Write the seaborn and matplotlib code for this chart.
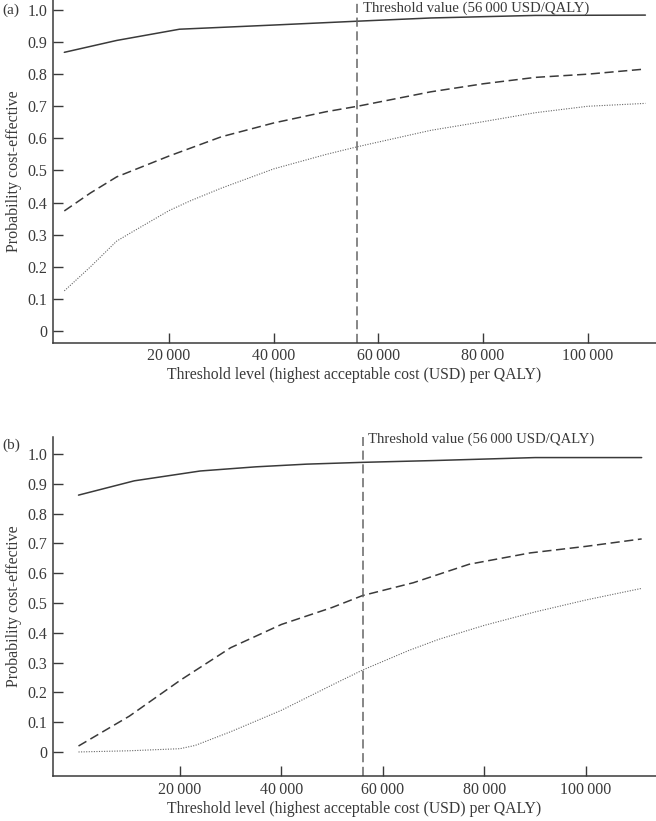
import numpy as np
import pandas as pd
import matplotlib
matplotlib.use("Agg")
import matplotlib.pyplot as plt
import seaborn as sns

# panel (a)
a_solid_x = [0, 10000, 22000, 40000, 56000, 70000, 90000, 111000]
a_solid_y = [0.868, 0.905, 0.94, 0.953, 0.965, 0.975, 0.983, 0.984]
a_dash_x = [0, 5000, 10000, 20000, 30000, 40000, 50000, 56000, 70000, 80000, 90000, 100000, 111000]
a_dash_y = [0.374, 0.43, 0.48, 0.545, 0.605, 0.648, 0.683, 0.70, 0.745, 0.77, 0.79, 0.80, 0.816]
a_dot_x = [0, 5000, 10000, 12600, 20000, 24000, 30000, 40000, 50000, 56000, 70000, 80000, 90000, 100000, 111000]
a_dot_y = [0.125, 0.2, 0.28, 0.305, 0.375, 0.405, 0.445, 0.505, 0.55, 0.574, 0.625, 0.652, 0.68, 0.70, 0.709]

# panel (b)
b_solid_x = [0, 11000, 24000, 35000, 45000, 56000, 70000, 90000, 111000]
b_solid_y = [0.862, 0.91, 0.943, 0.957, 0.966, 0.972, 0.978, 0.988, 0.988]
b_dash_x = [0, 10000, 20000, 30000, 40000, 50000, 56000, 66000, 77000, 89000, 100000, 111000]
b_dash_y = [0.02, 0.12, 0.24, 0.35, 0.428, 0.485, 0.525, 0.568, 0.63, 0.668, 0.69, 0.715]
b_dot_x = [0, 10000, 20000, 23000, 30000, 40000, 50000, 56000, 65000, 71000, 80000, 90000, 100000, 111000]
b_dot_y = [0.0, 0.004, 0.011, 0.022, 0.068, 0.14, 0.225, 0.275, 0.34, 0.378, 0.425, 0.47, 0.51, 0.549]

threshold = 56000
threshold_label = "Threshold value (56\u2009000 USD/QALY)"
x_ticks = [20000, 40000, 60000, 80000, 100000]
x_ticklabels = ["20\u2009000", "40\u2009000", "60\u2009000", "80\u2009000", "100\u2009000"]
y_ticks = [0, 0.1, 0.2, 0.3, 0.4, 0.5, 0.6, 0.7, 0.8, 0.9, 1.0]
y_ticklabels = ["0", "0.1", "0.2", "0.3", "0.4", "0.5", "0.6", "0.7", "0.8", "0.9", "1.0"]

sns.set_style("ticks")
plt.rcParams['font.family'] = ['Liberation Serif', 'DejaVu Serif']

fig = plt.figure(figsize=(6.56, 8.21), dpi=100)
ax_a = fig.add_axes([0.0808, 0.5826, 0.919, 0.4174])
ax_b = fig.add_axes([0.0808, 0.0545, 0.919, 0.4132])

ink = "#3a3a3a"

def draw_panel(ax, series, xlim, ylim, text_y, tag, tag_y):
    (sx, sy), (dx, dy), (px, py) = series
    sns.lineplot(x=sx, y=sy, ax=ax, color=ink, linewidth=1.1, linestyle="-")
    sns.lineplot(x=dx, y=dy, ax=ax, color=ink, linewidth=1.1, linestyle=(0, (6, 3)))
    sns.lineplot(x=px, y=py, ax=ax, color="#666666", linewidth=0.8, linestyle=(0, (1, 1.3)))
    ax.axvline(threshold, color="#666666", linewidth=1.1, linestyle=(0, (6, 3)))
    ax.text(threshold + 1000, text_y, threshold_label, fontsize=10.6, color=ink, va="center")
    ax.set_xlim(*xlim)
    ax.set_ylim(*ylim)
    ax.set_xticks(x_ticks)
    ax.set_xticklabels(x_ticklabels)
    ax.set_yticks(y_ticks)
    ax.set_yticklabels(y_ticklabels)
    ax.tick_params(axis="both", direction="in", length=7, width=1, colors=ink, labelsize=11.5, labelcolor=ink)
    ax.tick_params(axis="x", pad=4)
    ax.tick_params(axis="y", pad=4)
    sns.despine(ax=ax)
    for s in ["left", "bottom"]:
        ax.spines[s].set_color(ink)
        ax.spines[s].set_linewidth(1.1)
    ax.set_xlabel("Threshold level (highest acceptable cost (USD) per QALY)", fontsize=11.3, color=ink, labelpad=2)
    ax.set_ylabel("Probability cost-effective", fontsize=11.5, color=ink, labelpad=4)
    fig.text(0.003, tag_y, tag, fontsize=11, color=ink, va="center", ha="left")

draw_panel(ax_a, [(a_solid_x, a_solid_y), (a_dash_x, a_dash_y), (a_dot_x, a_dot_y)],
           (-2160, 113000), (-0.0364, 1.031), 1.006, "(a)", 1 - 10 / 821)
draw_panel(ax_b, [(b_solid_x, b_solid_y), (b_dash_x, b_dash_y), (b_dot_x, b_dot_y)],
           (-5025, 113800), (-0.0815, 1.057), 1.05, "(b)", 1 - 445 / 821)

fig.savefig("out.png", dpi=100)
